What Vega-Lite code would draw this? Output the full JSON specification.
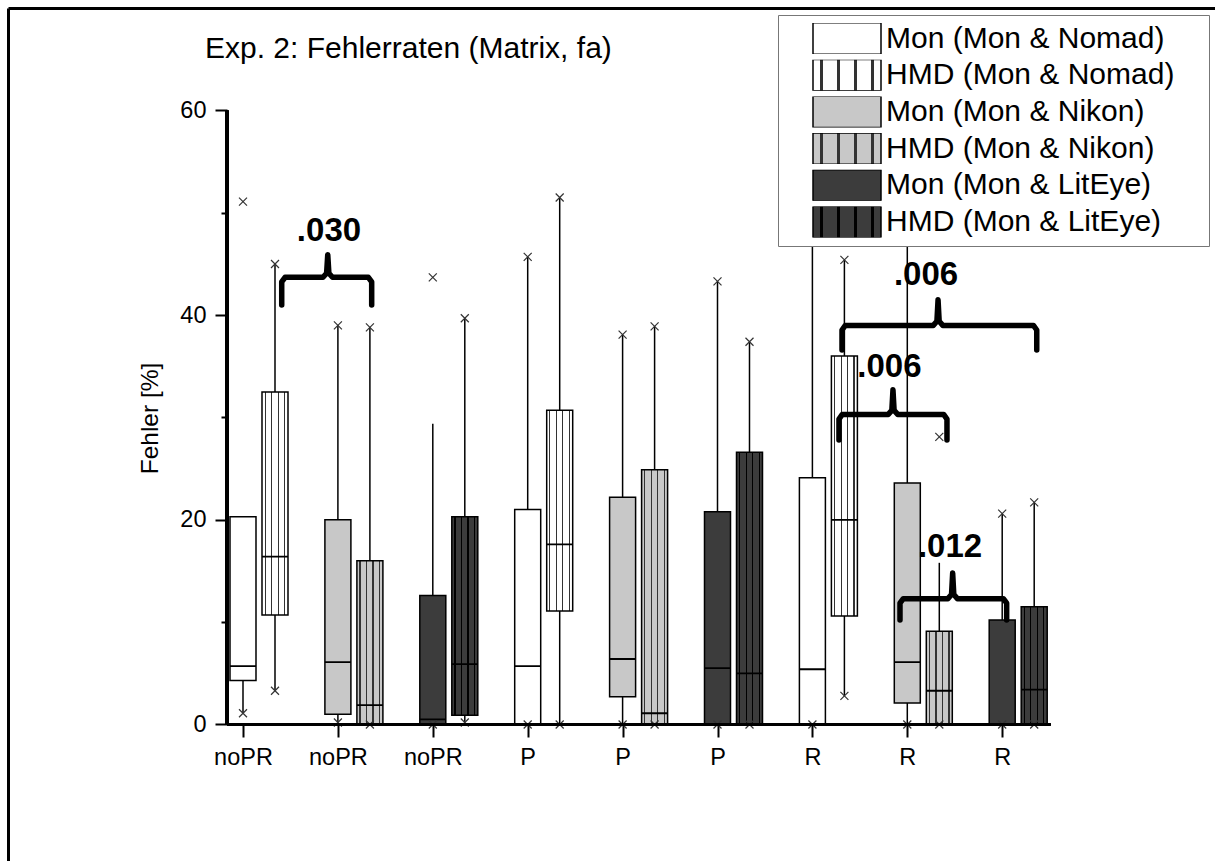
{
  "$schema": "https://vega.github.io/schema/vega-lite/v6.json",
  "width": 1207,
  "height": 853,
  "autosize": {"type": "none"},
  "padding": {"left": 8, "top": 8, "right": 0, "bottom": 0},
  "background": "white",
  "title": {"text": "Exp. 2: Fehlerraten (Matrix, fa)", "anchor": "start", "frame": "group", "orient": "top", "offset": -80, "baseline": "alphabetic", "dx": 197, "fontSize": 30, "fontWeight": "normal", "font": "Liberation Sans", "color": "black"},
  "config": {
    "font": "Liberation Sans",
    "view": {"stroke": null},
    "axis": {"grid": false, "labelColor": "black", "tickColor": "black", "titleColor": "black", "domainColor": "black", "labelFont": "Liberation Sans", "titleFont": "Liberation Sans"}
  },
  "datasets": {
    "boxes": [
      {"grp": "noPR|Nomad", "type": "Mon", "series": "Mon (Mon & Nomad)", "min": 1.1, "wlo": 1.1, "q1": 4.3, "med": 5.7, "q3": 20.3, "whi": 20.3, "max": 51.1},
      {"grp": "noPR|Nomad", "type": "HMD", "series": "HMD (Mon & Nomad)", "min": 3.3, "wlo": 3.3, "q1": 10.7, "med": 16.4, "q3": 32.5, "whi": 45.0, "max": 45.0},
      {"grp": "noPR|Nikon", "type": "Mon", "series": "Mon (Mon & Nikon)", "min": 0.2, "wlo": 0.2, "q1": 1.0, "med": 6.1, "q3": 20.0, "whi": 39.0, "max": 39.0},
      {"grp": "noPR|Nikon", "type": "HMD", "series": "HMD (Mon & Nikon)", "min": 0, "wlo": 0, "q1": 0, "med": 1.9, "q3": 16.0, "whi": 38.8, "max": 38.8},
      {"grp": "noPR|LitEye", "type": "Mon", "series": "Mon (Mon & LitEye)", "min": 0, "wlo": 0, "q1": 0, "med": 0.5, "q3": 12.6, "whi": 29.4, "max": 43.7},
      {"grp": "noPR|LitEye", "type": "HMD", "series": "HMD (Mon & LitEye)", "min": 0.2, "wlo": 0.2, "q1": 0.9, "med": 5.9, "q3": 20.3, "whi": 39.7, "max": 39.7},
      {"grp": "P|Nomad", "type": "Mon", "series": "Mon (Mon & Nomad)", "min": 0, "wlo": 0, "q1": 0, "med": 5.7, "q3": 21.0, "whi": 45.7, "max": 45.7},
      {"grp": "P|Nomad", "type": "HMD", "series": "HMD (Mon & Nomad)", "min": 0, "wlo": 0, "q1": 11.1, "med": 17.6, "q3": 30.7, "whi": 51.5, "max": 51.5},
      {"grp": "P|Nikon", "type": "Mon", "series": "Mon (Mon & Nikon)", "min": 0, "wlo": 0, "q1": 2.7, "med": 6.4, "q3": 22.2, "whi": 38.1, "max": 38.1},
      {"grp": "P|Nikon", "type": "HMD", "series": "HMD (Mon & Nikon)", "min": 0, "wlo": 0, "q1": 0, "med": 1.1, "q3": 24.9, "whi": 38.9, "max": 38.9},
      {"grp": "P|LitEye", "type": "Mon", "series": "Mon (Mon & LitEye)", "min": 0, "wlo": 0, "q1": 0, "med": 5.5, "q3": 20.8, "whi": 43.3, "max": 43.3},
      {"grp": "P|LitEye", "type": "HMD", "series": "HMD (Mon & LitEye)", "min": 0, "wlo": 0, "q1": 0, "med": 5.0, "q3": 26.6, "whi": 37.4, "max": 37.4},
      {"grp": "R|Nomad", "type": "Mon", "series": "Mon (Mon & Nomad)", "min": 0, "wlo": 0, "q1": 0, "med": 5.4, "q3": 24.1, "whi": 55, "max": 55},
      {"grp": "R|Nomad", "type": "HMD", "series": "HMD (Mon & Nomad)", "min": 2.8, "wlo": 2.8, "q1": 10.6, "med": 20.0, "q3": 36.0, "whi": 45.4, "max": 45.4},
      {"grp": "R|Nikon", "type": "Mon", "series": "Mon (Mon & Nikon)", "min": 0, "wlo": 0, "q1": 2.1, "med": 6.1, "q3": 23.6, "whi": 55, "max": 55},
      {"grp": "R|Nikon", "type": "HMD", "series": "HMD (Mon & Nikon)", "min": 0, "wlo": 0, "q1": 0, "med": 3.3, "q3": 9.1, "whi": 15.8, "max": 28.1},
      {"grp": "R|LitEye", "type": "Mon", "series": "Mon (Mon & LitEye)", "min": 0, "wlo": 0, "q1": 0, "med": 0, "q3": 10.2, "whi": 20.6, "max": 20.6},
      {"grp": "R|LitEye", "type": "HMD", "series": "HMD (Mon & LitEye)", "min": 0, "wlo": 0, "q1": 0, "med": 3.4, "q3": 11.5, "whi": 21.7, "max": 21.7}
    ],
    "brackets": [
      {"br": "a", "i": 1, "bx": 1.408, "by": 41.0}, {"br": "a", "i": 2, "bx": 1.408, "by": 43.25}, {"br": "a", "i": 3, "bx": 1.443, "by": 43.7}, {"br": "a", "i": 4, "bx": 1.843, "by": 43.7}, {"br": "a", "i": 5, "bx": 1.881, "by": 44.1}, {"br": "a", "i": 6, "bx": 1.893, "by": 45.9}, {"br": "a", "i": 7, "bx": 1.905, "by": 44.1}, {"br": "a", "i": 8, "bx": 1.943, "by": 43.7}, {"br": "a", "i": 9, "bx": 2.321, "by": 43.7}, {"br": "a", "i": 10, "bx": 2.356, "by": 43.25}, {"br": "a", "i": 11, "bx": 2.356, "by": 41.0},
      {"br": "b", "i": 1, "bx": 7.312, "by": 36.6}, {"br": "b", "i": 2, "bx": 7.312, "by": 38.55}, {"br": "b", "i": 3, "bx": 7.347, "by": 39.0}, {"br": "b", "i": 4, "bx": 8.274, "by": 39.0}, {"br": "b", "i": 5, "bx": 8.312, "by": 39.4}, {"br": "b", "i": 6, "bx": 8.324, "by": 41.5}, {"br": "b", "i": 7, "bx": 8.336, "by": 39.4}, {"br": "b", "i": 8, "bx": 8.374, "by": 39.0}, {"br": "b", "i": 9, "bx": 9.329, "by": 39.0}, {"br": "b", "i": 10, "bx": 9.364, "by": 38.55}, {"br": "b", "i": 11, "bx": 9.364, "by": 36.6},
      {"br": "c", "i": 1, "bx": 7.280, "by": 27.8}, {"br": "c", "i": 2, "bx": 7.280, "by": 29.85}, {"br": "c", "i": 3, "bx": 7.315, "by": 30.3}, {"br": "c", "i": 4, "bx": 7.799, "by": 30.3}, {"br": "c", "i": 5, "bx": 7.837, "by": 30.7}, {"br": "c", "i": 6, "bx": 7.849, "by": 32.7}, {"br": "c", "i": 7, "bx": 7.861, "by": 30.7}, {"br": "c", "i": 8, "bx": 7.899, "by": 30.3}, {"br": "c", "i": 9, "bx": 8.383, "by": 30.3}, {"br": "c", "i": 10, "bx": 8.418, "by": 29.85}, {"br": "c", "i": 11, "bx": 8.418, "by": 27.8},
      {"br": "d", "i": 1, "bx": 7.923, "by": 10.2}, {"br": "d", "i": 2, "bx": 7.923, "by": 11.85}, {"br": "d", "i": 3, "bx": 7.958, "by": 12.3}, {"br": "d", "i": 4, "bx": 8.428, "by": 12.3}, {"br": "d", "i": 5, "bx": 8.466, "by": 12.7}, {"br": "d", "i": 6, "bx": 8.478, "by": 14.8}, {"br": "d", "i": 7, "bx": 8.490, "by": 12.7}, {"br": "d", "i": 8, "bx": 8.528, "by": 12.3}, {"br": "d", "i": 9, "bx": 9.012, "by": 12.3}, {"br": "d", "i": 10, "bx": 9.047, "by": 11.85}, {"br": "d", "i": 11, "bx": 9.047, "by": 10.2}
    ],
    "pvals": [
      {"label": ".030", "bx": 1.906, "by": 47.2},
      {"label": ".006", "bx": 8.197, "by": 42.9},
      {"label": ".006", "bx": 7.812, "by": 34.0},
      {"label": ".012", "bx": 8.450, "by": 16.4}
    ]
  },
  "layer": [
    {
      "data": {"name": "boxes"},
      "layer": [
        {
          "mark": {"type": "rule", "color": "black", "strokeWidth": 1.5},
          "encoding": {
            "x": {"field": "grp", "type": "nominal", "sort": null,
              "scale": {"range": [219, 1042.2], "paddingInner": 0.32561, "paddingOuter": 0, "round": false},
              "axis": {"orient": "bottom", "offset": -136.5, "tickOffset": -16, "labelExpr": "split(datum.value, '|')[0]", "labelAngle": 0, "labelFontSize": 23.5, "labelPadding": 8.5, "tickSize": 12.5, "tickWidth": 2, "domain": false, "title": null}},
            "xOffset": {"field": "type", "type": "nominal", "sort": ["Mon", "HMD"], "scale": {"domain": ["Mon", "HMD"], "paddingInner": 0.1875, "paddingOuter": 0.09375}},
            "y": {"field": "wlo", "type": "quantitative",
              "scale": {"domain": [-13.339, 70.016], "nice": false, "zero": false},
              "axis": {"orient": "left", "offset": -219, "values": [0, 20, 40, 60], "tickSize": 12, "tickWidth": 2, "labelFontSize": 23.5, "labelPadding": 9, "domain": false, "title": "Fehler [%]", "titleFontSize": 24.5, "titleFontWeight": "normal", "titlePadding": 17, "titleY": 410}},
            "y2": {"field": "whi"}
          }
        },
        {
          "mark": {"type": "bar", "stroke": "black", "strokeWidth": 1.5, "fillOpacity": 1},
          "encoding": {
            "x": {"field": "grp", "type": "nominal", "sort": null, "axis": null},
            "xOffset": {"field": "type", "type": "nominal", "sort": ["Mon", "HMD"]},
            "y": {"field": "q1", "type": "quantitative",
              "axis": {"orient": "left", "offset": -219, "values": [10, 30, 50], "tickSize": 6, "tickWidth": 2, "labels": false, "domain": false, "title": null}},
            "y2": {"field": "q3"},
            "fill": {"field": "series", "type": "nominal",
              "scale": {
                "domain": ["Mon (Mon & Nomad)", "HMD (Mon & Nomad)", "Mon (Mon & Nikon)", "HMD (Mon & Nikon)", "Mon (Mon & LitEye)", "HMD (Mon & LitEye)"],
                "range": [
                  "#ffffff",
                  {"expr": "{gradient:'linear',x1:0,y1:0,x2:1,y2:0,stops:[{offset:0,color:'#ffffff'},{offset:0.1,color:'#ffffff'},{offset:0.1,color:'#333333'},{offset:0.145,color:'#333333'},{offset:0.145,color:'#ffffff'},{offset:0.35,color:'#ffffff'},{offset:0.35,color:'#333333'},{offset:0.395,color:'#333333'},{offset:0.395,color:'#ffffff'},{offset:0.6,color:'#ffffff'},{offset:0.6,color:'#333333'},{offset:0.645,color:'#333333'},{offset:0.645,color:'#ffffff'},{offset:0.85,color:'#ffffff'},{offset:0.85,color:'#333333'},{offset:0.895,color:'#333333'},{offset:0.895,color:'#ffffff'},{offset:1,color:'#ffffff'}]}"},
                  "#c8c8c8",
                  {"expr": "{gradient:'linear',x1:0,y1:0,x2:1,y2:0,stops:[{offset:0,color:'#c8c8c8'},{offset:0.1,color:'#c8c8c8'},{offset:0.1,color:'#333333'},{offset:0.145,color:'#333333'},{offset:0.145,color:'#c8c8c8'},{offset:0.35,color:'#c8c8c8'},{offset:0.35,color:'#333333'},{offset:0.395,color:'#333333'},{offset:0.395,color:'#c8c8c8'},{offset:0.6,color:'#c8c8c8'},{offset:0.6,color:'#333333'},{offset:0.645,color:'#333333'},{offset:0.645,color:'#c8c8c8'},{offset:0.85,color:'#c8c8c8'},{offset:0.85,color:'#333333'},{offset:0.895,color:'#333333'},{offset:0.895,color:'#c8c8c8'},{offset:1,color:'#c8c8c8'}]}"},
                  "#3c3c3c",
                  {"expr": "{gradient:'linear',x1:0,y1:0,x2:1,y2:0,stops:[{offset:0,color:'#3c3c3c'},{offset:0.1,color:'#3c3c3c'},{offset:0.1,color:'#000000'},{offset:0.145,color:'#000000'},{offset:0.145,color:'#3c3c3c'},{offset:0.35,color:'#3c3c3c'},{offset:0.35,color:'#000000'},{offset:0.395,color:'#000000'},{offset:0.395,color:'#3c3c3c'},{offset:0.6,color:'#3c3c3c'},{offset:0.6,color:'#000000'},{offset:0.645,color:'#000000'},{offset:0.645,color:'#3c3c3c'},{offset:0.85,color:'#3c3c3c'},{offset:0.85,color:'#000000'},{offset:0.895,color:'#000000'},{offset:0.895,color:'#3c3c3c'},{offset:1,color:'#3c3c3c'}]}"}
                ]
              },
              "legend": {"orient": "none", "legendX": 770, "legendY": 7, "title": "   ", "titleOrient": "right", "titleFontSize": 30, "titlePadding": 27, "padding": 8, "symbolOffset": 26, "labelOffset": 4, "labelLimit": 500, "clipHeight": 31, "rowPadding": 5.7, "labelFontSize": 30, "labelFont": "Liberation Sans", "labelColor": "black", "strokeColor": "#777777", "fillColor": "white", "symbolType": "M-1,-0.46H1V0.46H-1Z", "symbolSize": 4624, "symbolStrokeColor": "black", "symbolStrokeWidth": 1.5, "symbolOpacity": 1}}
          }
        },
        {
          "mark": {"type": "bar", "fill": "transparent", "stroke": "black", "strokeWidth": 1.8},
          "encoding": {
            "x": {"field": "grp", "type": "nominal", "sort": null, "axis": null},
            "xOffset": {"field": "type", "type": "nominal", "sort": ["Mon", "HMD"]},
            "y": {"field": "med", "type": "quantitative",
              "axis": {"orient": "left", "offset": 0, "domain": true, "domainWidth": 3, "ticks": false, "labels": false, "title": null}},
            "y2": {"field": "med"}
          }
        },
        {
          "transform": [{"fold": ["min", "max"], "as": ["stat", "v"]}],
          "mark": {"type": "point", "shape": "M-1,-1L1,1M-1,1L1,-1", "filled": false, "stroke": "#333333", "strokeWidth": 1.2, "size": 64, "opacity": 1},
          "encoding": {
            "x": {"field": "grp", "type": "nominal", "sort": null, "axis": null},
            "xOffset": {"field": "type", "type": "nominal", "sort": ["Mon", "HMD"]},
            "y": {"field": "v", "type": "quantitative", "axis": null}
          }
        },
        {
          "mark": {"type": "rule", "color": "black", "strokeWidth": 2.5},
          "encoding": {
            "x": {"datum": "noPR|Nomad", "type": "nominal", "bandPosition": 0, "axis": null},
            "y": {"datum": 0, "type": "quantitative", "axis": null},
            "y2": {"datum": 60}
          }
        },
        {
          "mark": {"type": "rule", "color": "black", "strokeWidth": 2.5},
          "encoding": {
            "x": {"datum": "noPR|Nomad", "type": "nominal", "bandPosition": 0, "axis": null},
            "x2": {"datum": "R|LitEye", "bandPosition": 1},
            "y": {"datum": 0, "type": "quantitative", "axis": null}
          }
        }
      ],
      "resolve": {"axis": {"x": "independent", "y": "independent"}}
    },
    {
      "layer": [
        {
          "data": {"name": "brackets"},
          "mark": {"type": "line", "color": "black", "strokeWidth": 5.5, "strokeCap": "round", "strokeJoin": "round"},
          "encoding": {
            "x": {"field": "bx", "type": "quantitative", "scale": {"domain": [-1.47629, 11.24236], "nice": false, "zero": false},
              "axis": {"orient": "top", "offset": 0, "domain": true, "domainWidth": 3, "ticks": false, "labels": false, "title": null, "grid": false}},
            "y": {"field": "by", "type": "quantitative", "axis": null},
            "detail": {"field": "br", "type": "nominal"},
            "order": {"field": "i", "type": "quantitative"}
          }
        },
        {
          "data": {"name": "pvals"},
          "mark": {"type": "text", "fontSize": 33, "fontWeight": "bold", "font": "Liberation Sans", "align": "center", "baseline": "alphabetic", "color": "black"},
          "encoding": {
            "x": {"field": "bx", "type": "quantitative", "axis": null},
            "y": {"field": "by", "type": "quantitative", "axis": null},
            "text": {"field": "label", "type": "nominal"}
          }
        }
      ],
      "resolve": {"axis": {"x": "independent", "y": "independent"}}
    }
  ],
  "resolve": {"scale": {"x": "independent"}, "axis": {"x": "independent", "y": "independent"}}
}
